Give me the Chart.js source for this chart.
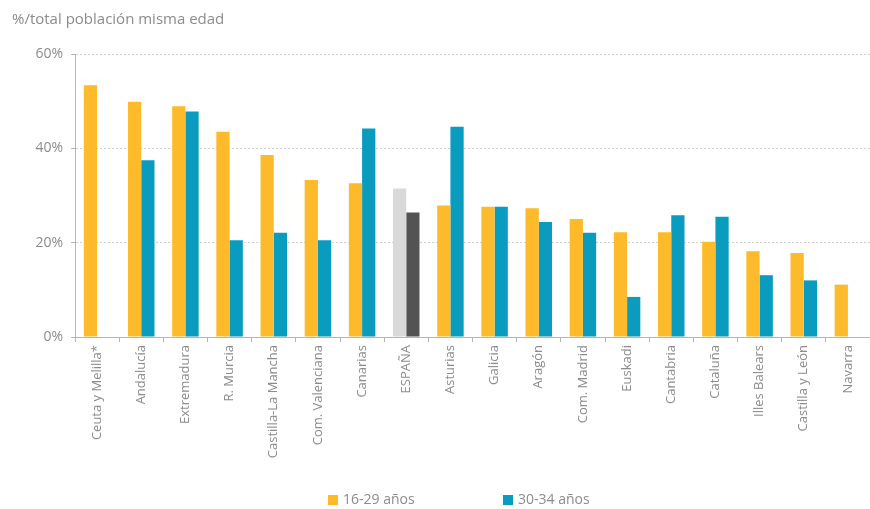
<!DOCTYPE html>
<html>
<head>
<meta charset="utf-8">
<script src="https://cdn.jsdelivr.net/npm/chart.js@4"></script>
<style>
    html, body { margin: 0; padding: 0; background: #fff; }
    #wrap { position: relative; width: 870px; height: 509px; }
    #title {
        position: absolute; top: 8px; left: 12px;
        font-family: 'Open Sans', sans-serif; font-size: 15px; color: #8c8c8c;
    }
    #legend {
        position: absolute; top: 490px; left: 0; width: 870px;
        font-family: 'Open Sans', sans-serif; font-size: 14px; color: #8c8c8c;
    }
    .item { position: absolute; top: 0; line-height: 18px; white-space: nowrap; }
    .box { display: inline-block; width: 10px; height: 10px; margin-right: 5px; vertical-align: -1px; }
</style>
</head>
<body>
<div id="wrap">
    <canvas id="chart" width="870" height="509"></canvas>
    <div id="title">%/total población misma edad</div>
    <div id="legend"></div>
</div>
<script>
// Data
const regions = ['Ceuta y Melilla*', 'Andalucía', 'Extremadura', 'R. Murcia', 'Castilla-La Mancha',
    'Com. Valenciana', 'Canarias', 'ESPAÑA', 'Asturias', 'Galicia', 'Aragón', 'Com. Madrid',
    'Euskadi', 'Cantabria', 'Cataluña', 'Illes Balears', 'Castilla y León', 'Navarra'];
const young16to29 = [53.4, 49.9, 48.9, 43.5, 38.6, 33.3, 32.6, 31.5, 27.9, 27.6, 27.3, 25.0, 22.2, 22.2, 20.2, 18.2, 17.8, 11.1];
const young30to34 = [null, 37.5, 47.8, 20.5, 22.1, 20.5, 44.2, 26.4, 44.6, 27.6, 24.4, 22.1, 8.5, 25.8, 25.5, 13.1, 12.0, null];
const yTicks = [0, 20, 40, 60];
const seriesNames = ['16-29 años', '30-34 años'];

const ORANGE = '#fdbb2b';
const TEAL = '#0a9cbf';
const textGrey = '#8c8c8c';

// España gets grey bars instead of the series colours
const colorsFor = (base, spain) => regions.map(r => r === 'ESPAÑA' ? spain : base);

const ctx = document.getElementById('chart');
new Chart(ctx, {
    type: 'bar',
    data: {
        labels: regions,
        datasets: [{
            label: seriesNames[0],
            data: young16to29,
            backgroundColor: colorsFor(ORANGE, '#d9d9d9')
        }, {
            label: seriesNames[1],
            data: young30to34,
            backgroundColor: colorsFor(TEAL, '#535353')
        }]
    },
    options: {
        responsive: false,
        animation: false,
        layout: { padding: { top: 54, right: 0, bottom: 0, left: 0 } },
        datasets: {
            bar: { categoryPercentage: 0.6, barPercentage: 1.0 }
        },
        plugins: {
            legend: { display: false },
            tooltip: { enabled: false }
        },
        scales: {
            x: {
                afterFit: (scale) => { scale.height = 172; },
                grid: {
                    display: true,
                    drawOnChartArea: false,
                    drawTicks: true,
                    tickLength: 5,
                    color: '#b5b5b5'
                },
                border: { display: true, color: '#b5b5b5', width: 1 },
                ticks: {
                    minRotation: 90,
                    maxRotation: 90,
                    autoSkip: false,
                    padding: 3,
                    color: textGrey,
                    font: { family: 'Open Sans', size: 13 }
                }
            },
            y: {
                min: 0,
                max: 60,
                afterFit: (scale) => { scale.width = 75; },
                afterBuildTicks: (scale) => { scale.ticks = yTicks.map(v => ({ value: v })); },
                grid: {
                    color: '#cfcfcf',
                    tickLength: 4,
                    tickColor: '#b5b5b5'
                },
                // in v4 the dash applies to the grid lines
                border: { display: true, color: '#b5b5b5', dash: [2, 2] },
                ticks: {
                    padding: 8,
                    color: textGrey,
                    font: { family: 'Open Sans', size: 14 },
                    callback: (v) => v + '%'
                }
            }
        }
    }
});

// Legend below the chart
const legend = document.getElementById('legend');
const legendPos = [328, 503];
[ORANGE, TEAL].forEach((c, i) => {
    const item = document.createElement('div');
    item.className = 'item';
    item.style.left = legendPos[i] + 'px';
    item.innerHTML = '<span class="box" style="background:' + c + '"></span>' + seriesNames[i];
    legend.appendChild(item);
});
</script>
</body>
</html>
